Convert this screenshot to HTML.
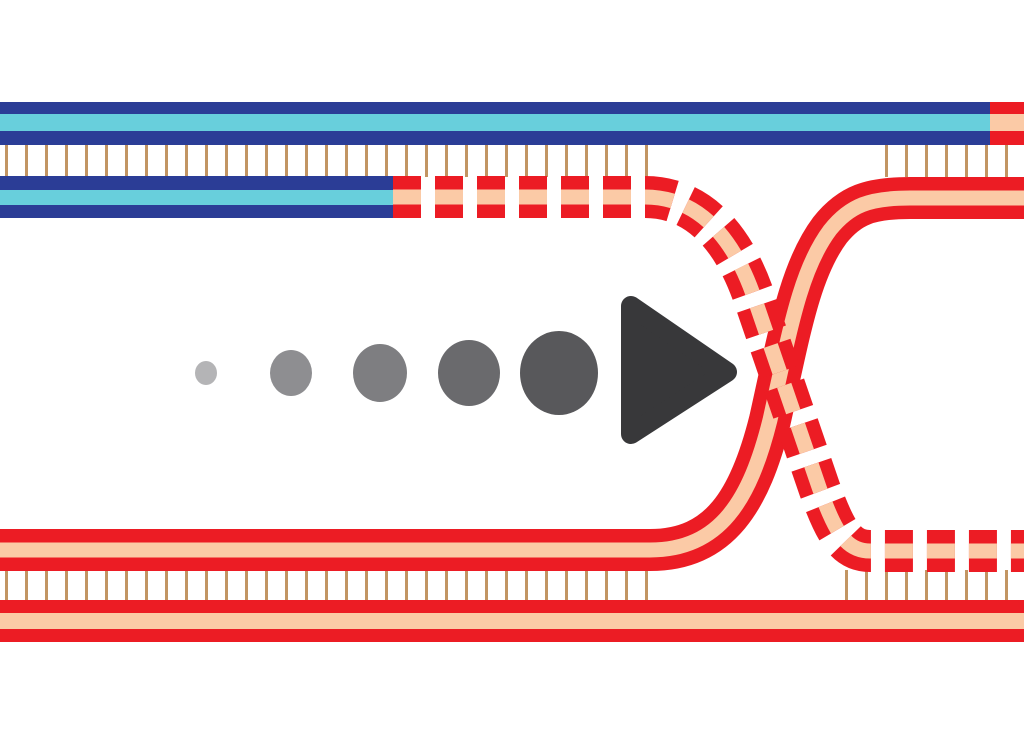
<!DOCTYPE html>
<html><head><meta charset="utf-8"><style>html,body{margin:0;padding:0;background:#fff}svg{display:block}</style></head>
<body>
<svg width="1024" height="729" viewBox="0 0 1024 729" xmlns="http://www.w3.org/2000/svg">
<defs>
<pattern id="tk" x="5" y="0" width="20" height="729" patternUnits="userSpaceOnUse">
<rect x="0" y="0" width="3" height="729" fill="#c29563"/>
</pattern>
</defs>
<rect width="1024" height="729" fill="#fff"/>
<!-- ticks -->
<rect x="0" y="145" width="664" height="32" fill="url(#tk)"/>
<rect x="884" y="145" width="140" height="32" fill="url(#tk)"/>
<rect x="0" y="570" width="660" height="30" fill="url(#tk)"/>
<rect x="842" y="570" width="182" height="30" fill="url(#tk)"/>
<!-- top strand -->
<rect x="0" y="102" width="990" height="43" fill="#2b3d96"/>
<rect x="0" y="114" width="990" height="17" fill="#68cfdc"/>
<rect x="990" y="102" width="34" height="43" fill="#ec1c24"/>
<rect x="990" y="114" width="34" height="17" fill="#fbcaa6"/>
<!-- second strand blue part -->
<rect x="0" y="176" width="393" height="42" fill="#2b3d96"/>
<rect x="0" y="190" width="393" height="15" fill="#68cfdc"/>
<!-- bottom strand -->
<rect x="0" y="600" width="1024" height="42" fill="#ec1c24"/>
<rect x="0" y="613" width="1024" height="16" fill="#fbcaa6"/>
<!-- solid crossing strand -->
<path d="M0,550 H650 C720,550 750,500 770,420 C790,330 800,270 830,230 C850,205 870,198 910,198 H1024" fill="none" stroke="#ec1c24" stroke-width="42"/>
<path d="M0,550 H650 C720,550 750,500 770,420 C790,330 800,270 830,230 C850,205 870,198 910,198 H1024" fill="none" stroke="#fbcaa6" stroke-width="15"/>
<!-- dashed strand -->
<path d="M393,197 H645 C700,197 735,240 755,300 L820,490 C835,530 845,551 870,551 H1024" fill="none" stroke="#ec1c24" stroke-width="42" stroke-dasharray="28 14"/>
<path d="M393,197 H645 C700,197 735,240 755,300 L820,490 C835,530 845,551 870,551 H1024" fill="none" stroke="#fbcaa6" stroke-width="15" stroke-dasharray="28 14"/>
<!-- circles -->
<ellipse cx="206" cy="373" rx="11" ry="12" fill="#b4b4b6"/>
<ellipse cx="291" cy="373" rx="21" ry="23" fill="#8e8e91"/>
<ellipse cx="380" cy="373" rx="27" ry="29" fill="#7e7e81"/>
<ellipse cx="469" cy="373" rx="31" ry="33" fill="#6a6a6d"/>
<ellipse cx="559" cy="373" rx="39" ry="42" fill="#58585b"/>
<polygon points="631,306 631,434 727,372" fill="#38383a" stroke="#38383a" stroke-width="20" stroke-linejoin="round"/>
</svg>
</body></html>
